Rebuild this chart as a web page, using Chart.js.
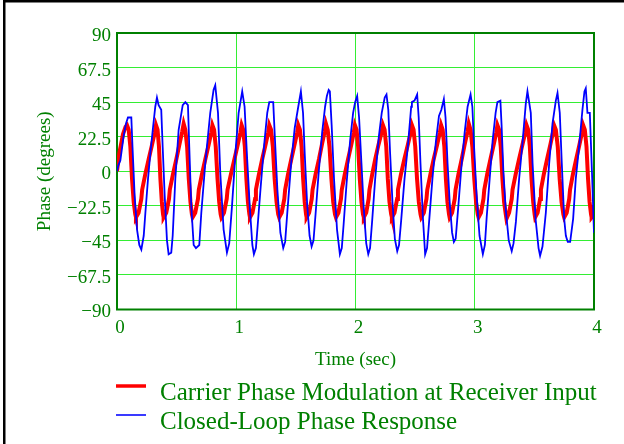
<!DOCTYPE html>
<html>
<head>
<meta charset="utf-8">
<title>Phase response</title>
<script src="https://cdn.jsdelivr.net/npm/chart.js@4.4.1/dist/chart.umd.min.js"></script>
<style>
    html, body { margin: 0; padding: 0; background: #fff; }
    #wrap { width: 624px; height: 444px; position: relative; }
</style>
</head>
<body>
<div id="wrap"><canvas id="chart" width="624" height="444"></canvas></div>
<script>
(function () {
    "use strict";

    // ============================
    // Data
    // ============================
    const seriesNames = [
        "Carrier Phase Modulation at Receiver Input",
        "Closed-Loop Phase Response",
    ];

    const xTicks = [0, 1, 2, 3, 4];
    const yTicks = [-90, -67.5, -45, -22.5, 0, 22.5, 45, 67.5, 90];

    // carrier phase modulation (red)
    const carrierTime = [
        0.000, 0.020, 0.050, 0.072, 0.084, 0.098, 0.112, 0.126, 0.140, 0.153, 0.159,
        0.181, 0.204, 0.211, 0.237, 0.266, 0.293, 0.316, 0.327, 0.340, 0.352, 0.364, 0.376, 0.386, 0.391,
        0.413, 0.436, 0.443, 0.469, 0.498, 0.525, 0.547, 0.559, 0.573, 0.588, 0.602, 0.616, 0.628, 0.634,
        0.656, 0.679, 0.686, 0.712, 0.741, 0.768, 0.790, 0.800, 0.814, 0.828, 0.843, 0.857, 0.869, 0.875,
        0.897, 0.920, 0.927, 0.955, 0.985, 1.012, 1.034, 1.045, 1.058, 1.072, 1.085, 1.098, 1.110, 1.115,
        1.136, 1.158, 1.165, 1.190, 1.218, 1.245, 1.267, 1.277, 1.292, 1.307, 1.322, 1.338, 1.352, 1.360,
        1.381, 1.403, 1.410, 1.434, 1.462, 1.488, 1.510, 1.520, 1.534, 1.548, 1.561, 1.574, 1.585, 1.590,
        1.611, 1.633, 1.640, 1.665, 1.694, 1.720, 1.742, 1.752, 1.767, 1.782, 1.798, 1.813, 1.828, 1.836,
        1.857, 1.878, 1.885, 1.910, 1.938, 1.964, 1.985, 1.995, 2.009, 2.022, 2.036, 2.050, 2.063, 2.070,
        2.090, 2.110, 2.117, 2.140, 2.166, 2.192, 2.218, 2.230, 2.244, 2.258, 2.271, 2.285, 2.299, 2.305,
        2.327, 2.349, 2.356, 2.381, 2.410, 2.438, 2.462, 2.473, 2.487, 2.501, 2.516, 2.531, 2.545, 2.551,
        2.573, 2.595, 2.602, 2.628, 2.656, 2.684, 2.707, 2.718, 2.731, 2.745, 2.758, 2.771, 2.784, 2.789,
        2.810, 2.832, 2.839, 2.863, 2.891, 2.917, 2.940, 2.950, 2.965, 2.980, 2.996, 3.011, 3.025, 3.032,
        3.052, 3.073, 3.080, 3.104, 3.132, 3.158, 3.180, 3.190, 3.204, 3.218, 3.232, 3.246, 3.260, 3.266,
        3.288, 3.310, 3.317, 3.343, 3.372, 3.399, 3.423, 3.434, 3.448, 3.462, 3.476, 3.490, 3.502, 3.506,
        3.527, 3.548, 3.555, 3.579, 3.607, 3.633, 3.655, 3.665, 3.680, 3.696, 3.712, 3.728, 3.743, 3.750,
        3.771, 3.792, 3.799, 3.823, 3.851, 3.877, 3.899, 3.909, 3.923, 3.937, 3.950, 3.963, 3.975, 3.980,
        3.990, 4.000,
    ];
    const carrierPhase = [
        0, 12, 24, 29, 30, 27, 16, -5, -20, -28, -30,
        -27, -18, -12, -2, 8, 17, 25, 30, 27, 16, -5, -20, -28, -30,
        -27, -18, -12, -2, 8, 18, 26, 31, 27, 16, -5, -20, -28, -30,
        -27, -18, -12, -2, 8, 17, 25, 30, 27, 16, -5, -20, -28, -30,
        -27, -18, -12, -2, 8, 17, 25, 30, 27, 16, -5, -20, -28, -30,
        -27, -18, -12, -2, 8, 17, 25, 30, 27, 16, -5, -20, -28, -30,
        -27, -18, -12, -2, 8, 17, 25, 30, 27, 16, -5, -20, -28, -30,
        -27, -18, -12, -2, 8, 18, 26, 31, 27, 16, -5, -20, -28, -30,
        -27, -18, -12, -2, 8, 17, 25, 30, 27, 16, -5, -20, -28, -30,
        -27, -18, -12, -2, 8, 17, 25, 30, 27, 16, -5, -20, -28, -30,
        -27, -18, -12, -2, 8, 17, 25, 30, 27, 16, -5, -20, -28, -30,
        -27, -18, -12, -2, 8, 17, 25, 30, 27, 16, -5, -20, -28, -30,
        -27, -18, -12, -2, 8, 18, 26, 31, 27, 16, -5, -20, -28, -30,
        -27, -18, -12, -2, 8, 17, 25, 30, 27, 16, -5, -20, -28, -31,
        -27, -18, -12, -2, 8, 17, 25, 30, 27, 16, -5, -20, -28, -30,
        -27, -18, -12, -2, 8, 17, 25, 30, 27, 16, -5, -20, -28, -30,
        -27, -18, -12, -2, 8, 17, 25, 30, 27, 16, -5, -20, -28, -30,
        -29, -22,
    ];

    // closed-loop response (blue)
    const loopTime = [
        0.000, 0.012, 0.028, 0.056, 0.075, 0.092, 0.120, 0.130, 0.148, 0.168, 0.187, 0.204,
        0.224, 0.238, 0.260, 0.280, 0.300, 0.321, 0.335, 0.349, 0.371, 0.383, 0.400, 0.419, 0.433,
        0.455, 0.467, 0.489, 0.517, 0.551, 0.573, 0.595, 0.606, 0.623, 0.643, 0.662,
        0.690, 0.707, 0.740, 0.782, 0.810, 0.824, 0.847, 0.866, 0.894, 0.922,
        0.941, 0.964, 0.997, 1.020, 1.050, 1.070, 1.090, 1.115, 1.135, 1.148,
        1.165, 1.180, 1.205, 1.235, 1.260, 1.277, 1.310, 1.325, 1.345, 1.370, 1.394,
        1.410, 1.430, 1.460, 1.490, 1.520, 1.542, 1.560, 1.575, 1.595, 1.615, 1.632,
        1.648, 1.665, 1.690, 1.720, 1.745, 1.760, 1.775, 1.785, 1.800, 1.820, 1.845, 1.869,
        1.885, 1.900, 1.925, 1.955, 1.980, 1.997, 2.014, 2.030, 2.050, 2.070, 2.090, 2.107,
        2.122, 2.140, 2.165, 2.195, 2.220, 2.245, 2.260, 2.275, 2.290, 2.310, 2.330, 2.350,
        2.365, 2.383, 2.411, 2.439, 2.467, 2.473, 2.495, 2.517, 2.530, 2.545, 2.565, 2.584,
        2.600, 2.620, 2.645, 2.675, 2.700, 2.720, 2.741, 2.755, 2.772, 2.790, 2.810, 2.825,
        2.840, 2.860, 2.885, 2.915, 2.940, 2.965, 2.980, 2.995, 3.015, 3.040, 3.068,
        3.085, 3.100, 3.125, 3.150, 3.175, 3.190, 3.215, 3.225, 3.240, 3.260, 3.285, 3.310,
        3.325, 3.345, 3.372, 3.400, 3.428, 3.442, 3.470, 3.485, 3.510, 3.535, 3.548,
        3.568, 3.596, 3.624, 3.652, 3.680, 3.694, 3.713, 3.730, 3.750, 3.764, 3.780, 3.800,
        3.825, 3.847, 3.875, 3.903, 3.920, 3.931, 3.945, 3.965, 3.985, 4.000,
    ];
    const loopPhase = [
        0, 4, 7, 23, 31, 35, 35, 16, -16, -38, -48, -51,
        -42, -27, -5, 12, 27, 42, 48, 43, 40, 16, -16, -45, -54,
        -53, -42, -5, 27, 43, 45, 43, 16, -23, -48, -50,
        -48, -27, 5, 38, 53, 56, 38, -1, -38, -53,
        -47, -23, 16, 38, 52, 42, 10, -25, -48, -54,
        -50, -35, -10, 18, 38, 45, 45, 20, -12, -40, -50,
        -46, -25, 5, 28, 42, 52, 38, 10, -22, -42, -49,
        -45, -28, -2, 25, 42, 49, 53, 52, 30, -5, -38, -54,
        -50, -35, -8, 20, 38, 45, 49, 35, 5, -25, -47, -54,
        -50, -32, -5, 22, 38, 48, 50, 40, 12, -20, -44, -52,
        -48, -32, -5, 16, 42, 45, 46, 50, 35, 5, -30, -54,
        -50, -30, -5, 20, 36, 40, 47, 35, 5, -20, -40, -46,
        -44, -25, 0, 25, 42, 50, 42, 15, -15, -42, -54,
        -48, -30, -5, 20, 38, 45, 46, 30, 0, -25, -45, -52,
        -47, -33, -5, 18, 44, 52, 38, 5, -31, -50, -55,
        -49, -27, 5, 31, 46, 51, 38, 5, -31, -42, -46, -46,
        -31, -5, 16, 40, 52, 54, 38, 38, -5, -40,
    ];

    // ============================
    // Helpers
    // ============================
    const GREEN_TEXT = "#008000";
    const FONT = "'Liberation Serif', 'Times New Roman', serif";

    function toPoints(xs, ys) {
        return xs.map((x, i) => ({ x: x, y: ys[i] }));
    }

    function fmtTick(v) {
        if (v === 0) return "0";
        return (v < 0 ? "\u2212" : "") + String(Math.abs(v));
    }

    const seriesColors = ["#ff0000", "#0000ff"];

    // frame, outer border, legend
    const decorPlugin = {
        id: "decor",
        beforeDatasetsDraw(chart) {
            const ctx = chart.ctx;
            const a = chart.chartArea;
            ctx.save();
            ctx.strokeStyle = "#008000";
            ctx.lineWidth = 2;
            ctx.strokeRect(a.left, a.top, a.right - a.left, a.bottom - a.top);
            ctx.restore();
        },
        afterDraw(chart) {
            const ctx = chart.ctx;
            ctx.save();
            // outer box (only top and left show)
            ctx.fillStyle = "#000";
            ctx.fillRect(3, 0, 621, 2.5);
            ctx.fillRect(3, 0, 2.5, 444);

            // legend
            const rows = [
                { y: 386, text: 400, width: 3.5, color: seriesColors[0] },
                { y: 415, text: 428.5, width: 2, color: "#3a3aff" },
            ];
            ctx.font = "25px " + FONT;
            ctx.textBaseline = "alphabetic";
            rows.forEach((r, i) => {
                ctx.strokeStyle = r.color;
                ctx.lineWidth = r.width;
                ctx.beginPath();
                ctx.moveTo(116, r.y);
                ctx.lineTo(146, r.y);
                ctx.stroke();
                ctx.fillStyle = GREEN_TEXT;
                ctx.fillText(seriesNames[i], 160, r.text);
            });
            ctx.restore();
        },
    };

    // ============================
    // Chart
    // ============================
    const canvas = document.getElementById("chart");

    new Chart(canvas, {
        type: "line",
        data: {
            datasets: [
                {
                    label: seriesNames[0],
                    data: toPoints(carrierTime, carrierPhase),
                    borderColor: seriesColors[0],
                    borderWidth: 4,
                    pointRadius: 0,
                    tension: 0,
                    order: 2,
                },
                {
                    label: seriesNames[1],
                    data: toPoints(loopTime, loopPhase),
                    borderColor: seriesColors[1],
                    borderWidth: 1.8,
                    pointRadius: 0,
                    tension: 0,
                    order: 1,
                },
            ],
        },
        options: {
            responsive: false,
            animation: false,
            devicePixelRatio: 1,
            layout: {
                padding: { left: 0, top: 33, right: 30, bottom: 0 },
            },
            plugins: {
                legend: { display: false },
                tooltip: { enabled: false },
            },
            scales: {
                x: {
                    type: "linear",
                    min: 0,
                    max: 4,
                    afterBuildTicks: (s) => { s.ticks = xTicks.map((v) => ({ value: v })); },
                    afterFit: (s) => { s.height = 134.5; },
                    grid: { color: "#33ee33", lineWidth: 1, drawTicks: false },
                    border: { display: false },
                    ticks: {
                        color: GREEN_TEXT,
                        font: { family: FONT, size: 19 },
                        padding: 7,
                        labelOffset: 3,
                        maxRotation: 0,
                        callback: (v) => fmtTick(v),
                    },
                    title: {
                        display: true,
                        text: "Time (sec)",
                        color: GREEN_TEXT,
                        font: { family: FONT, size: 19 },
                        padding: { top: 0, bottom: 73 },
                    },
                },
                y: {
                    type: "linear",
                    min: -90,
                    max: 90,
                    afterBuildTicks: (s) => { s.ticks = yTicks.map((v) => ({ value: v })); },
                    afterFit: (s) => { s.width = 117; },
                    grid: { color: "#33ee33", lineWidth: 1, drawTicks: false },
                    border: { display: false },
                    ticks: {
                        color: GREEN_TEXT,
                        font: { family: FONT, size: 19 },
                        padding: 6,
                        labelOffset: 3,
                        callback: (v) => fmtTick(v),
                    },
                    title: {
                        display: true,
                        text: "Phase (degrees)",
                        color: GREEN_TEXT,
                        font: { family: FONT, size: 19 },
                        padding: { top: 34, bottom: 0 },
                    },
                },
            },
        },
        plugins: [decorPlugin],
    });
})();
</script>
</body>
</html>
